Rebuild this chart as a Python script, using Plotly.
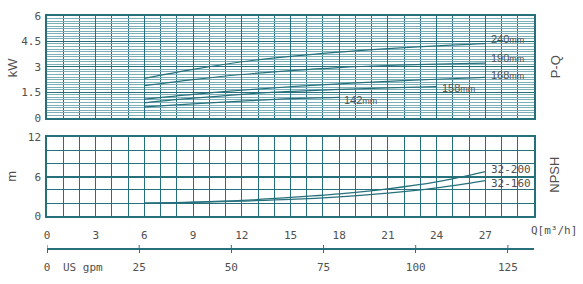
import plotly.graph_objects as go

# ---- data ----
q_pts = [6, 9, 12, 15, 18, 21, 24, 27]
p_240 = [2.32, 2.85, 3.30, 3.62, 3.87, 4.07, 4.24, 4.37]
p_190 = [1.89, 2.25, 2.55, 2.78, 2.96, 3.08, 3.16, 3.22]
p_168 = [1.10, 1.38, 1.62, 1.83, 2.00, 2.14, 2.27, 2.38]
q_158 = [6, 9, 12, 15, 18, 21, 24]
p_158 = [0.88, 1.15, 1.38, 1.55, 1.67, 1.76, 1.83]
q_142 = [6, 9, 12, 15, 18]
p_142 = [0.64, 0.82, 0.98, 1.12, 1.20]
npsh_200 = [2.0, 2.15, 2.4, 2.85, 3.4, 4.15, 5.2, 6.75]
npsh_160 = [2.0, 2.1, 2.3, 2.55, 2.95, 3.5, 4.3, 5.4]

pq_labels = ["240", "190", "168", "158", "142"]
pq_label_pos = [(27.2, 4.65), (27.2, 3.53), (27.2, 2.52), (24.2, 1.74), (18.2, 1.07)]
npsh_labels = ["32-200", "32-160"]
npsh_label_pos = [(27.2, 7.1), (27.2, 4.9)]

q_ticks = [0, 3, 6, 9, 12, 15, 18, 21, 24, 27]
kw_ticks = [0, 1.5, 3, 4.5, 6]
m_ticks = [0, 6, 12]
gpm_ticks = [0, 25, 50, 75, 100, 125]
GPM_PER_M3H = 4.403

TEAL = "rgb(38,112,124)"
LIGHT = "rgb(125,175,184)"
TXT = "#505050"
MONO = "DejaVu Sans Mono"
SANS = "Liberation Sans"

fig = go.Figure()
line_style = dict(color=TEAL, width=1.2)
for qs, ps in [(q_pts, p_240), (q_pts, p_190), (q_pts, p_168), (q_158, p_158), (q_142, p_142)]:
    fig.add_trace(go.Scatter(x=qs, y=ps, mode="lines", line=dict(line_style, shape="spline"),
                             xaxis="x", yaxis="y", showlegend=False, hoverinfo="skip"))
for ns in [npsh_200, npsh_160]:
    fig.add_trace(go.Scatter(x=q_pts, y=ns, mode="lines", line=dict(line_style, shape="spline"),
                             xaxis="x2", yaxis="y2", showlegend=False, hoverinfo="skip"))
# dummy trace for gpm axis
fig.add_trace(go.Scatter(x=[0, 30 * GPM_PER_M3H], y=[0, 0], mode="lines", line=dict(width=0),
                         xaxis="x3", yaxis="y3", showlegend=False, hoverinfo="skip"))

H = 284
mt, mb = 11, 10
ph = H - mt - mb
def dom(p):
    return (H - mb - p) / ph

common_x = dict(range=[0, 30], showline=True, linecolor=TEAL, linewidth=1.5, mirror=True,
                showgrid=True, gridcolor=TEAL, gridwidth=1, tick0=0, dtick=3,
                minor=dict(dtick=1, showgrid=True, gridcolor=TEAL, gridwidth=1),
                zeroline=False, ticks="")

fig.update_layout(
    width=583, height=284,
    margin=dict(l=47, r=49, t=mt, b=mb),
    paper_bgcolor="white", plot_bgcolor="white",
    xaxis=dict(common_x, domain=[0, 1], anchor="y", showticklabels=False),
    yaxis=dict(domain=[dom(118), dom(11)], range=[0, 6], anchor="x",
               tickvals=kw_ticks, ticktext=[("%g" % v) for v in kw_ticks],
               showgrid=True, gridcolor=TEAL, gridwidth=1,
               minor=dict(dtick=0.15, tick0=0, showgrid=True, gridcolor=LIGHT, gridwidth=1),
               showline=True, linecolor=TEAL, linewidth=1.5, mirror=True, zeroline=False,
               tickfont=dict(family=MONO, size=11, color=TXT), ticks="", ticklabelstandoff=2),
    xaxis2=dict(common_x, domain=[0, 1], anchor="y2", showticklabels=True,
                tickvals=q_ticks, ticktext=[str(v) for v in q_ticks],
                tickfont=dict(family=MONO, size=11, color=TXT), ticklabelstandoff=8),
    yaxis2=dict(domain=[dom(221.7), dom(138.3)], range=[0, 12], anchor="x2",
                tickvals=m_ticks, showgrid=True, gridcolor=TEAL, gridwidth=2,
                minor=dict(dtick=2, tick0=0, showgrid=True, gridcolor=TEAL, gridwidth=1),
                showline=True, linecolor=TEAL, linewidth=1.5, mirror=True, zeroline=False,
                tickfont=dict(family=MONO, size=11, color=TXT), ticks="", ticklabelstandoff=2),
    xaxis3=dict(domain=[0, 1], anchor="y3", range=[0, 30 * GPM_PER_M3H],
                tickvals=gpm_ticks, ticktext=[str(v) for v in gpm_ticks],
                showline=True, linecolor=TEAL, linewidth=1.5, ticks="outside", ticklen=3,
                tickcolor=TEAL, tickwidth=1, showgrid=False, zeroline=False,
                tickfont=dict(family=MONO, size=11, color=TXT), ticklabelstandoff=5),
    yaxis3=dict(domain=[dom(255), dom(255) + 0.012], range=[0, 1], visible=False),
)

# upward half of the crossing gpm tick marks
fig.update_layout(shapes=[
    dict(type="line", xref="x3", yref="y3", x0=g, x1=g, y0=0, y1=1,
         line=dict(color=TEAL, width=1)) for g in gpm_ticks
])

anns = []
for name, (qx, py) in zip(pq_labels, pq_label_pos):
    anns.append(dict(x=qx, y=py, xref="x", yref="y", xanchor="left", yanchor="middle",
                     text=name + "<span style='font-size:9px'>mm</span>", showarrow=False,
                     font=dict(family=SANS, size=11, color=TXT)))
for name, (qx, my) in zip(npsh_labels, npsh_label_pos):
    anns.append(dict(x=qx, y=my, xref="x2", yref="y2", xanchor="left", yanchor="middle",
                     text=name, showarrow=False, font=dict(family=MONO, size=11, color=TXT)))
anns += [
    dict(x=0, y=dom(65), xref="paper", yref="paper", xanchor="center", yanchor="middle",
         xshift=-35, text="kW", textangle=-90, showarrow=False,
         font=dict(family=SANS, size=13, color=TXT)),
    dict(x=0, y=dom(180), xref="paper", yref="paper", xanchor="center", yanchor="middle",
         xshift=-35, text="m", textangle=-90, showarrow=False,
         font=dict(family=SANS, size=13, color=TXT)),
    dict(x=1, y=dom(65), xref="paper", yref="paper", xanchor="center", yanchor="middle",
         xshift=21, text="P-Q", textangle=-90, showarrow=False,
         font=dict(family=SANS, size=13, color=TXT)),
    dict(x=1, y=dom(178), xref="paper", yref="paper", xanchor="center", yanchor="middle",
         xshift=21, text="NPSH", textangle=-90, showarrow=False,
         font=dict(family=SANS, size=13, color=TXT)),
    dict(x=1, y=dom(237), xref="paper", yref="paper", xanchor="left", yanchor="middle",
         xshift=-5, text="Q[m³/h]", showarrow=False,
         font=dict(family=MONO, size=11, color=TXT)),
    dict(x=3.8, y=dom(275.5), xref="x3", yref="paper", xanchor="left", yanchor="middle",
         text="US gpm", showarrow=False, font=dict(family=MONO, size=11, color=TXT)),
]
fig.update_layout(annotations=anns)

fig.write_html("out.html")
